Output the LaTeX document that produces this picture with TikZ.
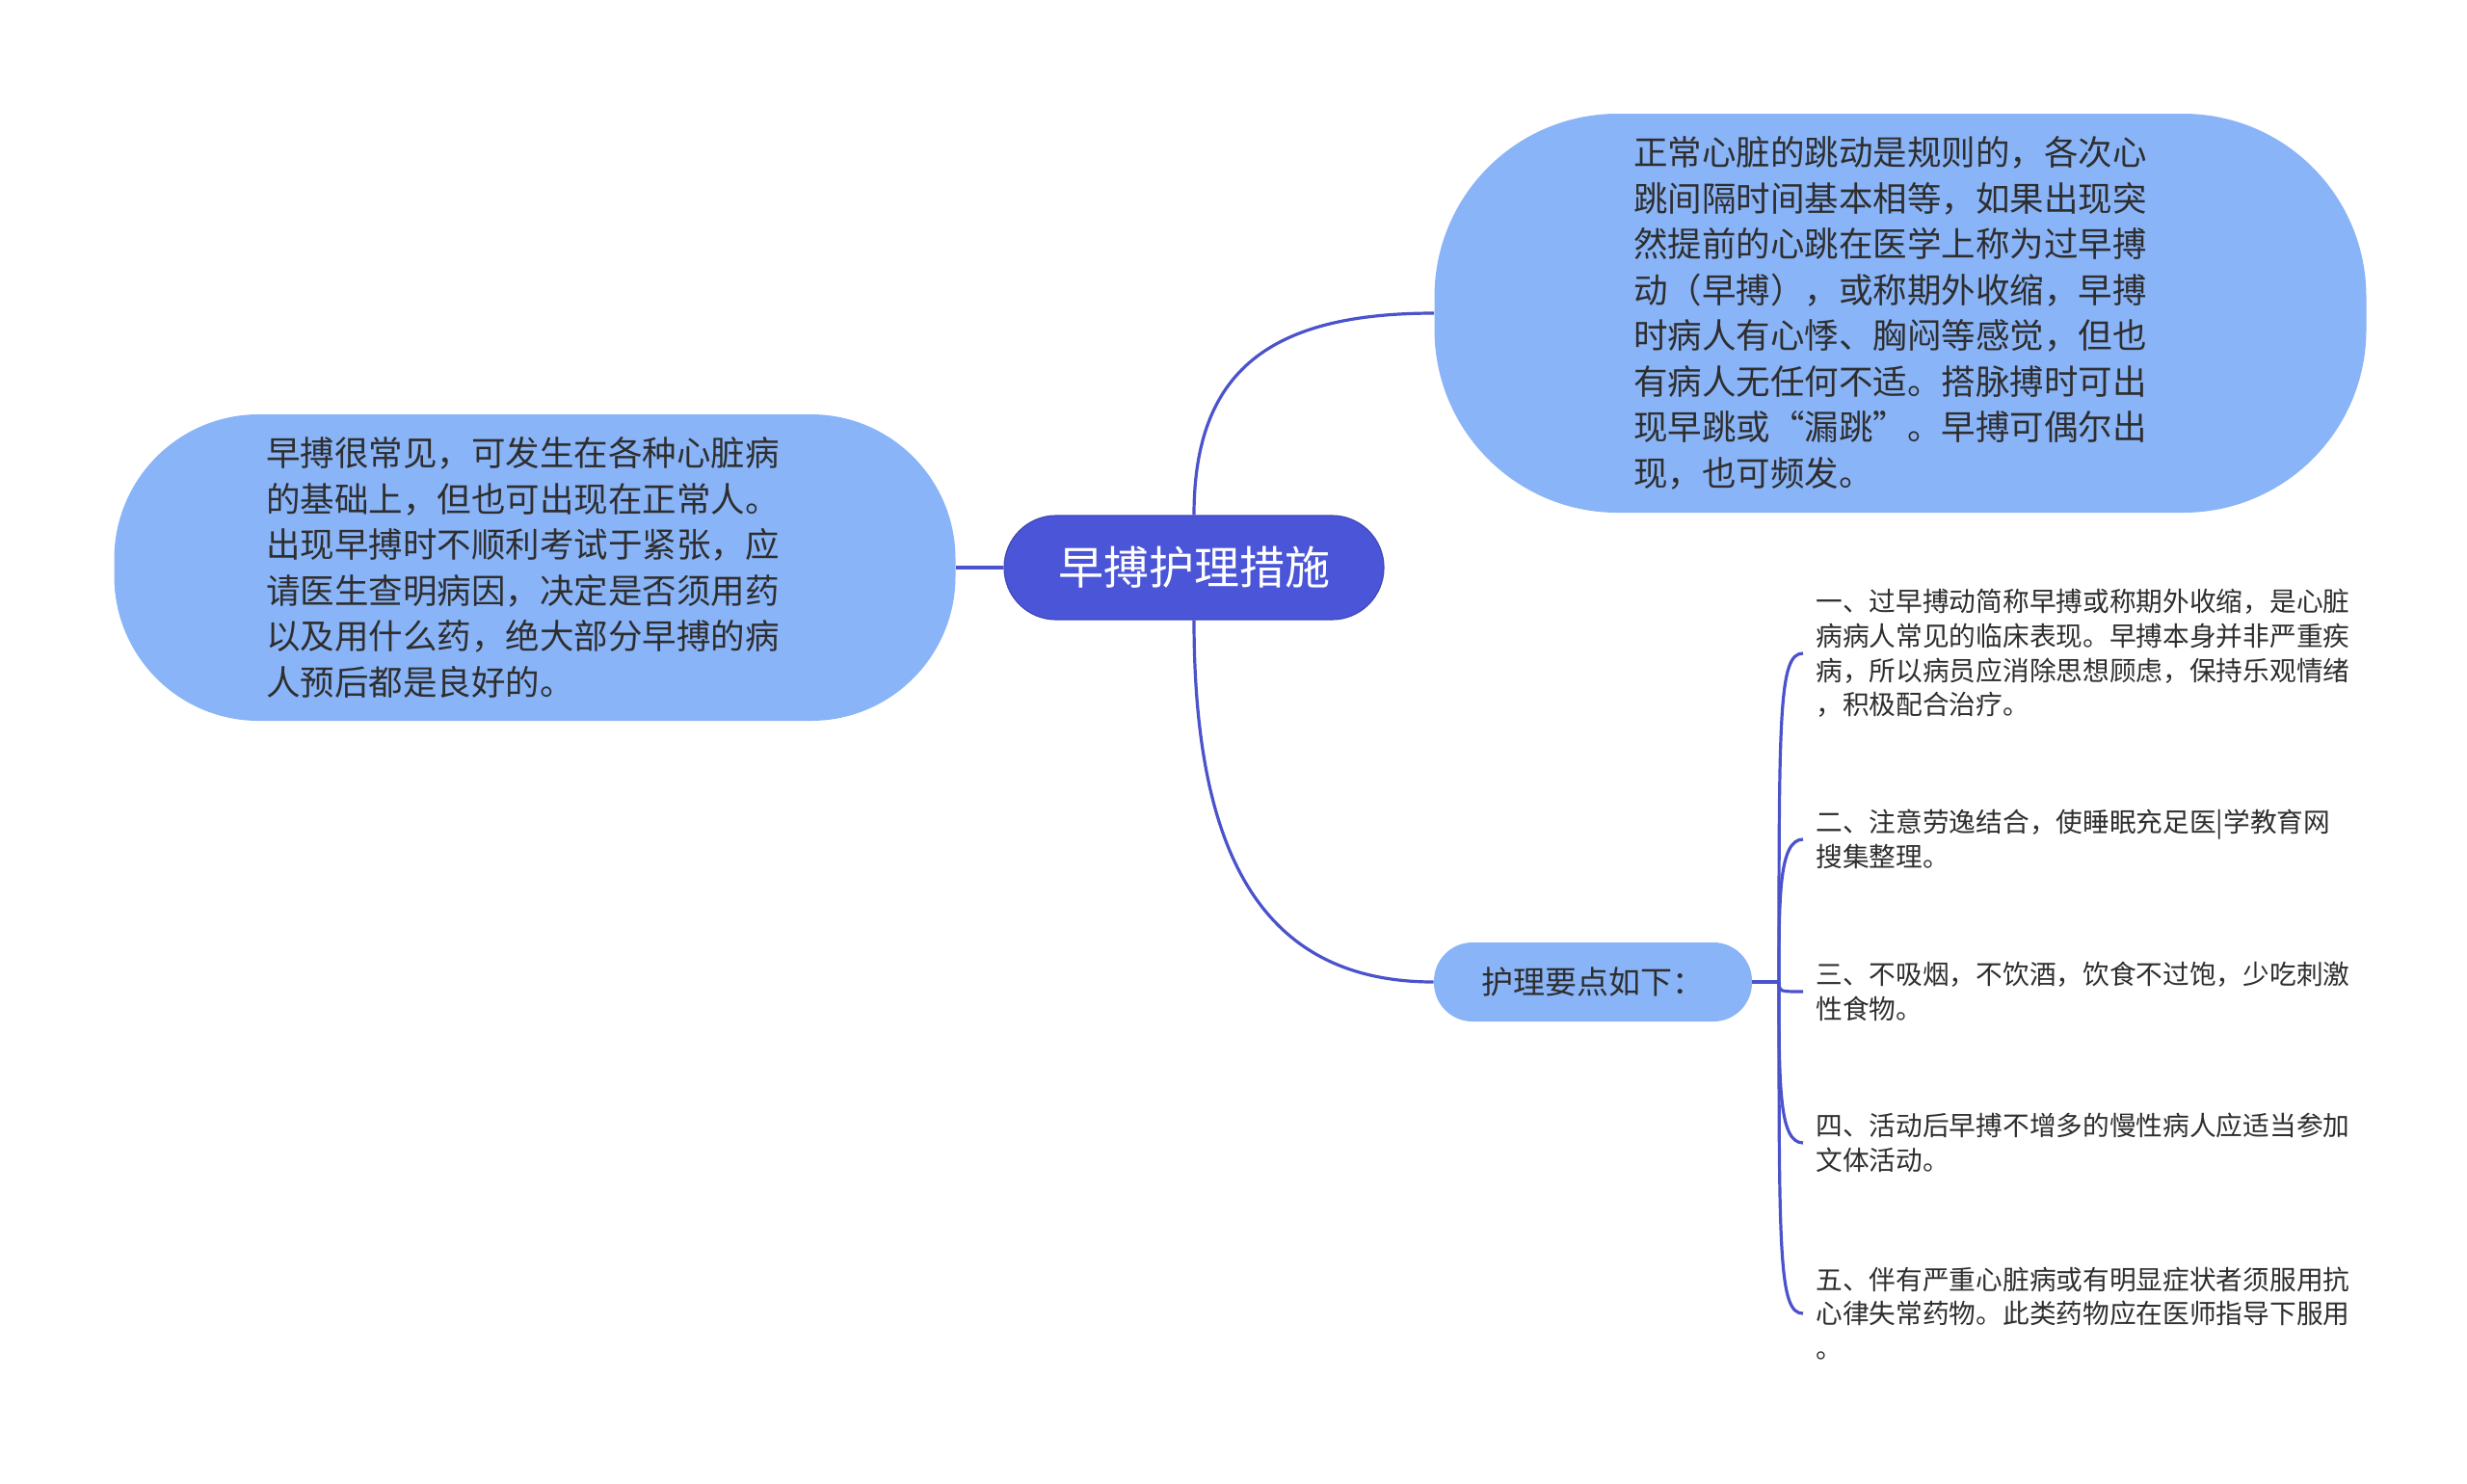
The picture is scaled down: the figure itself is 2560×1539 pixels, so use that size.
\documentclass[tikz,border=0pt]{standalone}
\usepackage{fontspec}
\setmainfont{Noto Sans CJK SC}
\usetikzlibrary{calc}
\definecolor{rootblue}{HTML}{4B55D7}
\definecolor{bubbleblue}{HTML}{8AB4F8}
\definecolor{linkblue}{HTML}{4A52CC}
\definecolor{txtgray}{HTML}{2E2E2E}

\begin{document}
\begin{tikzpicture}[x=0.5pt,y=-0.5pt]
    \tikzstyle{topic}=[rounded corners=27pt,fill=rootblue,draw=rootblue!85!black,line width=0.6pt,text=white,minimum width=197pt,minimum height=54pt,inner sep=0pt,font=\fontsize{23.5pt}{28pt}\selectfont]
    \tikzstyle{bubble}=[fill=bubbleblue,text=txtgray,inner sep=0pt,align=left,font=\fontsize{17.75pt}{23.75pt}\selectfont]
    \tikzstyle{sub}=[rounded corners=20pt,fill=bubbleblue,text=txtgray,minimum width=165pt,minimum height=41pt,inner sep=0pt,font=\fontsize{16.5pt}{20pt}\selectfont]
    \tikzstyle{leaf}=[anchor=west,inner xsep=6.5pt,inner ysep=0pt,align=left,text=txtgray,font=\fontsize{13.85pt}{17.8pt}\selectfont]
    \tikzstyle{link}=[draw=linkblue,line width=1.6pt]
    \useasboundingbox (0,0) rectangle (2560,1539);

    \node[topic] (R) at (1239,589) {早搏护理措施};

    \node[bubble,text width=279pt,minimum width=436.5pt,minimum height=159pt,rounded corners=75pt] (L) at (555,589)
        {早搏很常见，可发生在各种心脏病\\的基础上，但也可出现在正常人。\\出现早搏时不顺利考试于紧张，应\\请医生查明病因，决定是否须用药\\以及用什么药，绝大部分早搏的病\\人预后都是良好的。};
    \node[bubble,text width=277pt,minimum width=483.5pt,minimum height=207pt,rounded corners=95pt] (T) at (1972,325)
        {正常心脏的跳动是规则的，各次心\\跳间隔时间基本相等，如果出现突\\然提前的心跳在医学上称为过早搏\\动（早搏），或称期外收缩，早搏\\时病人有心悸、胸闷等感觉，但也\\有病人无任何不适。搭脉搏时可出\\现早跳或“漏跳”。早搏可偶尔出\\现，也可频发。};

    \node[sub] (P) at (1653,1019) {护理要点如下：};
    \coordinate (hub) at (1846,1019);

    \foreach \num/\y/\txt in {1/678/{一、过早搏动简称早搏或称期外收缩，是心脏\\病病人常见的临床表现。早搏本身并非严重疾\\病，所以病员应消除思想顾虑，保持乐观情绪\\，积极配合治疗。},
            2/871/{二、注意劳逸结合，使睡眠充足医|学教育网\\搜集整理。},
            3/1029/{三、不吸烟，不饮酒，饮食不过饱，少吃刺激\\性食物。},
            4/1186/{四、活动后早搏不增多的慢性病人应适当参加\\文体活动。},
            5/1363/{五、伴有严重心脏病或有明显症状者须服用抗\\心律失常药物。此类药物应在医师指导下服用\\。}}
        \node[leaf] (P-\num) at (1871,\y) {\txt};

    \draw[link] (R.west) -- (L.east);
    \draw[link] (R.north) .. controls +(0,-150) and +(-170,0) .. (T.west);
    \draw[link] (R.south) .. controls +(0,240) and +(-180,0) .. (P.west);
    \draw[link] (P.east) -- (hub);

    \foreach \num/\d in {1/60, 2/60, 3/0, 4/-60, 5/-60}
        \draw[link] (hub) .. controls ($(hub |- P-\num.west)+(0,\d)$) and (hub |- P-\num.west) .. (P-\num.west);
\end{tikzpicture}
\end{document}
